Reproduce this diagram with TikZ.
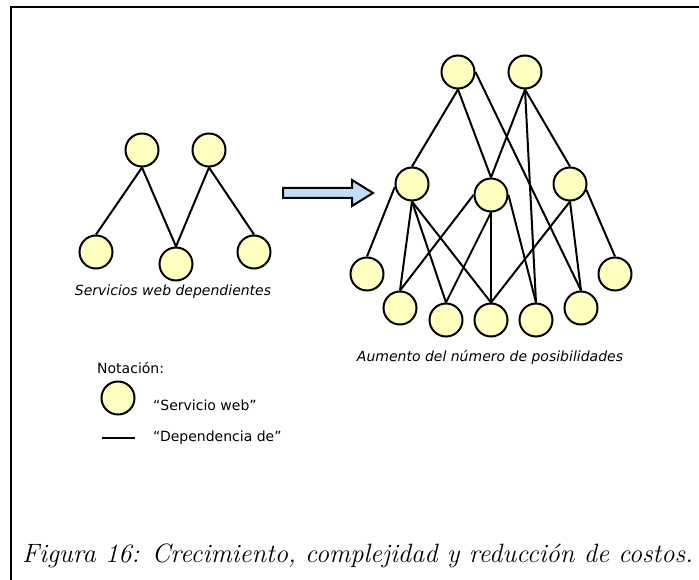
\documentclass[tikz,border=0pt]{standalone}
\usepackage{fontspec}
\setsansfont{DejaVu Sans}
\usetikzlibrary{backgrounds}
\definecolor{svcfill}{RGB}{255,255,192}
\definecolor{arrowfill}{RGB}{192,222,250}
\tikzset{
  svc/.style={circle,draw=black,fill=svcfill,line width=2pt,minimum size=33pt,inner sep=0pt},
  dep/.style={draw=black,line width=2pt},
  sflabel/.style={font=\fontsize{14}{16}\selectfont\sffamily\itshape,inner sep=0pt},
  notelabel/.style={font=\fontsize{14}{16}\selectfont\sffamily,inner sep=0pt,anchor=west},
  frameline/.style={draw=black,line width=2.4pt}
}
\begin{document}
\begin{tikzpicture}[x=1pt,y=-1pt]
\useasboundingbox (0,0) rectangle (699,580);
% frame
\coordinate (fa) at (11,580);
\coordinate (fb) at (11,7);
\coordinate (fc) at (699,7);
\draw[frameline] (fa) -- (fb) -- (fc);

% left graph
\node[svc] (L1) at (142,150) {};
\node[svc] (L2) at (209,150) {};
\node[svc] (LB1) at (96,252) {};
\node[svc] (LB2) at (176,264) {};
\node[svc] (LB3) at (254,252) {};
\begin{scope}[on background layer]
\draw[dep] (L1.south) -- (LB1.north);
\draw[dep] (L1.south) -- (LB2.north);
\draw[dep] (L2.south) -- (LB2.north);
\draw[dep] (L2.south) -- (LB3.north);
\end{scope}
\node[sflabel] (capL) at (173,292) {Servicios web dependientes};

% block arrow
\draw[line width=2pt,fill=arrowfill,line join=miter]
  (283,188) -- (352,188) -- (352,180) -- (373,193) -- (352,206) -- (352,198) -- (283,198) -- cycle;

% right graph
\node[svc] (T1) at (458,72) {};
\node[svc] (T2) at (525,72) {};
\node[svc] (M1) at (412,184) {};
\node[svc] (M2) at (491,195) {};
\node[svc] (M3) at (570,184) {};
\node[svc] (B1) at (367,274) {};
\node[svc] (B2) at (400,308) {};
\node[svc] (B3) at (446,320) {};
\node[svc] (B4) at (491,320) {};
\node[svc] (B5) at (536,320) {};
\node[svc] (B6) at (581,308) {};
\node[svc] (B7) at (615,274) {};
\begin{scope}[on background layer]
\draw[dep] (T1.south) -- (M1.north);
\draw[dep] (T1.south) -- (M2.north);
\draw[dep] (T1.east) -- (B6.north);
\draw[dep] (T2.south) -- (M2.north);
\draw[dep] (T2.south) -- (M3.north);
\draw[dep] (T2.south) -- (B5.north);
\draw[dep] (M1.190) -- (B1.north);
\draw[dep] (M1.south) -- (B2.north);
\draw[dep] (M1.south) -- (B3.north);
\draw[dep] (M1.south) -- (B4.north);
\draw[dep] (M2.west) -- (B2.north);
\draw[dep] (M2.south) -- (B3.north);
\draw[dep] (M2.south) -- (B4.north);
\draw[dep] (M2.east) -- (B5.north);
\draw[dep] (M3.south) -- (B4.north);
\draw[dep] (M3.south) -- (B6.north);
\draw[dep] (M3.-20) -- (B7.north);
\end{scope}
\node[sflabel] (capR) at (490,357) {Aumento del número de posibilidades};

% notation
\node[notelabel] (nt) at (97,368) {Notación:};
\node[svc] (ncirc) at (118,398) {};
\node[notelabel] (nsvc) at (153,405) {“Servicio web”};
\coordinate (nl1) at (102,438);
\coordinate (nl2) at (135,438);
\draw[dep] (nl1) -- (nl2);
\node[notelabel] (ndep) at (153,438) {“Dependencia de”};

% caption
\node[anchor=base west,inner sep=0pt,font=\fontsize{26.5}{30}\selectfont\itshape] (cap) at (22,562)
  {Figura 16: Crecimiento, complejidad y reducción de costos.};
\end{tikzpicture}
\end{document}
